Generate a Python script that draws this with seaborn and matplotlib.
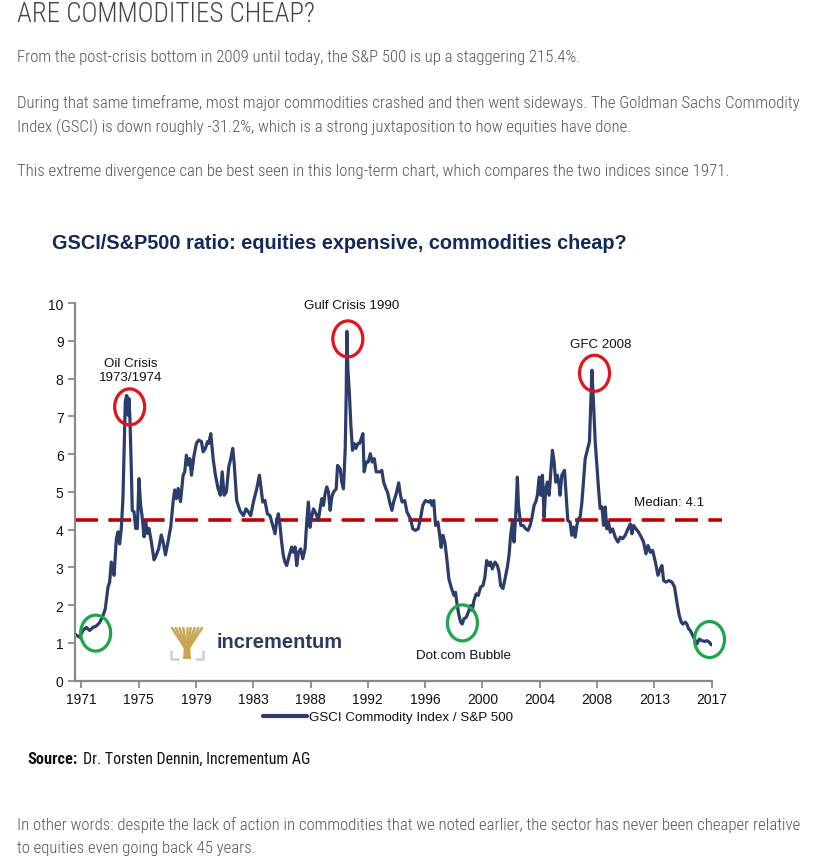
import numpy as np
import pandas as pd
import matplotlib
matplotlib.use("Agg")
import matplotlib.pyplot as plt
import seaborn as sns
from matplotlib import font_manager as fm
from matplotlib.patches import Ellipse, Polygon
from matplotlib.lines import Line2D

# ---------------- data ----------------
years = [1970.52, 1970.88, 1971.12, 1971.37, 1971.61, 1971.85, 1972.10, 1972.34, 1972.58, 1972.75,
         1972.95, 1973.07, 1973.19, 1973.31, 1973.39, 1973.56, 1973.68, 1973.80, 1973.92, 1974.04,
         1974.12, 1974.21, 1974.30, 1974.36, 1974.41, 1974.48, 1974.55, 1974.65, 1974.72, 1974.85,
         1974.97, 1975.09, 1975.21, 1975.33, 1975.43, 1975.58, 1975.70, 1975.82, 1975.94, 1976.11,
         1976.31, 1976.48, 1976.65, 1976.84, 1976.97, 1977.14, 1977.33, 1977.53, 1977.70, 1977.82,
         1977.94, 1978.07, 1978.24, 1978.43, 1978.55, 1978.67, 1978.80, 1978.92, 1979.04, 1979.23,
         1979.40, 1979.57, 1979.77, 1979.89, 1980.06, 1980.21, 1980.30, 1980.45, 1980.62, 1980.79,
         1980.98, 1981.15, 1981.28, 1981.42, 1981.59, 1981.76, 1981.91, 1982.05, 1982.15, 1982.34,
         1982.58, 1982.83, 1983.02, 1983.19, 1983.36, 1983.56, 1983.80, 1984.00, 1984.09, 1984.24,
         1984.40, 1984.58, 1984.77, 1984.97, 1985.14, 1985.26, 1985.38, 1985.50, 1985.62, 1985.74,
         1985.86, 1985.99, 1986.18, 1986.35, 1986.47, 1986.60, 1986.72, 1986.84, 1987.01, 1987.16,
         1987.33, 1987.45, 1987.57, 1987.69, 1987.81, 1987.94, 1988.13, 1988.30, 1988.42, 1988.55,
         1988.67, 1988.79, 1988.91, 1989.04, 1989.16, 1989.28, 1989.40, 1989.60, 1989.70, 1989.89,
         1990.01, 1990.13, 1990.26, 1990.33, 1990.38, 1990.45, 1990.57, 1990.67, 1990.79, 1990.91,
         1991.04, 1991.18, 1991.30, 1991.43, 1991.55, 1991.64, 1991.79, 1991.94, 1992.09, 1992.23,
         1992.38, 1992.52, 1992.67, 1992.81, 1992.93, 1993.06, 1993.23, 1993.35, 1993.50, 1993.67,
         1993.79, 1993.98, 1994.16, 1994.29, 1994.41, 1994.60, 1994.77, 1995.02, 1995.19, 1995.38,
         1995.58, 1995.75, 1995.92, 1996.11, 1996.36, 1996.48, 1996.60, 1996.72, 1996.85, 1997.02,
         1997.14, 1997.26, 1997.38, 1997.53, 1997.70, 1997.82, 1998.02, 1998.19, 1998.31, 1998.43,
         1998.56, 1998.68, 1998.80, 1998.92, 1999.09, 1999.24, 1999.41, 1999.53, 1999.65, 1999.82,
         1999.97, 2000.14, 2000.31, 2000.45, 2000.58, 2000.75, 2000.87, 2000.99, 2001.19, 2001.36,
         2001.48, 2001.60, 2001.77, 2001.92, 2002.09, 2002.21, 2002.33, 2002.46, 2002.58, 2002.70,
         2002.82, 2002.90, 2003.07, 2003.24, 2003.43, 2003.60, 2003.75, 2003.87, 2004.04, 2004.16,
         2004.28, 2004.41, 2004.53, 2004.65, 2004.77, 2004.89, 2005.01, 2005.14, 2005.26, 2005.38,
         2005.50, 2005.62, 2005.74, 2005.87, 2005.94, 2006.06, 2006.26, 2006.38, 2006.50, 2006.67,
         2006.79, 2006.91, 2007.04, 2007.16, 2007.28, 2007.40, 2007.53, 2007.77, 2008.08, 2008.26,
         2008.37, 2008.50, 2008.74, 2008.86, 2008.99, 2009.11, 2009.23, 2009.35, 2009.47, 2009.60,
         2009.77, 2009.96, 2010.16, 2010.33, 2010.50, 2010.69, 2010.89, 2011.06, 2011.18, 2011.30,
         2011.47, 2011.67, 2011.86, 2012.03, 2012.20, 2012.35, 2012.52, 2012.69, 2012.89, 2013.08,
         2013.25, 2013.37, 2013.49, 2013.66, 2013.86, 2014.10, 2014.29, 2014.46, 2014.63, 2014.78,
         2014.90, 2015.07, 2015.19, 2015.32, 2015.44, 2015.56, 2015.75, 2015.92, 2016.09, 2016.29,
         2016.48, 2016.65, 2016.82, 2016.97]

ratio = [1.24, 1.15, 1.33, 1.41, 1.33, 1.41, 1.45, 1.54, 1.72, 1.90,
         2.48, 2.61, 3.14, 2.96, 2.79, 3.76, 3.94, 3.62, 4.03, 4.82,
         5.97, 7.38, 7.55, 7.51, 7.03, 7.47, 6.94, 5.61, 4.51, 4.47,
         4.03, 4.03, 5.35, 4.64, 4.38, 3.81, 4.21, 3.90, 4.03, 3.68,
         3.20, 3.33, 3.50, 3.86, 3.68, 3.33, 3.68, 4.08, 4.74, 5.05,
         4.82, 5.09, 4.74, 5.44, 5.53, 5.97, 5.71, 5.88, 5.44, 5.97,
         6.28, 6.37, 6.33, 6.06, 6.15, 6.33, 6.28, 6.54, 5.88, 5.44,
         5.09, 4.91, 5.53, 4.91, 5.00, 5.66, 5.88, 6.15, 5.79, 4.77,
         4.50, 4.37, 4.55, 4.47, 4.37, 4.73, 5.08, 5.44, 5.17, 4.73,
         4.77, 4.42, 4.37, 4.11, 3.89, 4.24, 4.42, 4.11, 3.67, 3.32,
         3.14, 3.05, 3.32, 3.54, 3.40, 3.54, 3.05, 3.40, 3.49, 3.23,
         3.49, 4.20, 4.73, 4.06, 4.33, 4.55, 4.42, 4.24, 4.55, 4.82,
         4.64, 4.95, 5.13, 4.99, 4.51, 4.86, 4.99, 5.08, 5.70, 5.61,
         5.26, 5.08, 6.15, 7.56, 9.25, 8.27, 7.56, 6.77, 6.10, 6.28,
         6.15, 6.28, 6.28, 6.41, 6.54, 5.53, 5.79, 5.79, 6.01, 5.79,
         5.88, 5.53, 5.53, 5.53, 5.57, 5.26, 5.08, 4.99, 4.73, 4.51,
         4.73, 4.95, 5.24, 4.91, 4.73, 4.77, 4.46, 4.29, 4.02, 3.98,
         4.02, 4.29, 4.64, 4.77, 4.73, 4.77, 4.64, 4.77, 4.11, 4.20,
         3.89, 3.53, 3.85, 3.67, 3.14, 2.70, 2.44, 2.26, 2.34, 1.99,
         1.73, 1.55, 1.50, 1.64, 1.68, 1.81, 1.99, 1.86, 2.12, 2.30,
         2.26, 2.48, 2.52, 2.74, 3.18, 3.05, 3.14, 2.96, 3.14, 3.05,
         2.88, 2.52, 2.44, 2.70, 3.01, 3.32, 3.85, 4.20, 3.67, 4.38,
         5.39, 4.64, 4.11, 4.11, 4.02, 3.98, 4.11, 4.29, 4.64, 4.73,
         4.91, 5.39, 4.91, 5.44, 4.33, 5.08, 5.26, 4.91, 5.53, 6.10,
         5.79, 5.26, 5.44, 5.17, 4.91, 5.44, 5.57, 4.91, 4.24, 4.20,
         3.85, 4.07, 3.80, 4.11, 4.29, 4.33, 4.73, 5.88, 6.33, 8.22,
         7.39, 6.33, 5.09, 4.56, 4.60, 4.11, 4.60, 4.02, 4.20, 3.93,
         4.02, 3.80, 3.67, 3.80, 3.76, 3.85, 4.02, 4.15, 3.89, 4.11,
         4.02, 3.93, 3.80, 3.67, 3.36, 3.58, 3.40, 3.45, 3.14, 2.79,
         2.96, 3.05, 2.65, 2.61, 2.65, 2.61, 2.48, 2.08, 1.73, 1.55,
         1.50, 1.55, 1.50, 1.37, 1.33, 1.24, 1.10, 0.97, 1.10, 1.06,
         1.04, 1.06, 1.02, 0.95]

tick_labels = ['1971', '1975', '1979', '1983', '1988', '1992', '1996',
               '2000', '2004', '2008', '2013', '2017']
y_ticks = [0, 1, 2, 3, 4, 5, 6, 7, 8, 9, 10]
median_value = 4.25
median_label = "Median: 4.1"
series_label = "GSCI Commodity Index / S&P 500"

event_labels = ["Oil Crisis\n1973/1974", "Gulf Crisis 1990", "GFC 2008", "Dot.com Bubble"]
circle_years = [1974.53, 1990.45, 2008.45, 1972.05, 1998.81, 2016.84]
circle_values = [7.25, 9.05, 8.14, 1.26, 1.53, 1.09]
circle_kind = ['red', 'red', 'red', 'green', 'green', 'green']

page_title = "ARE COMMODITIES CHEAP?"
para1 = "From the post-crisis bottom in 2009 until today, the S&P 500 is up a staggering 215.4%."
para2a = ("During that same timeframe, most major commodities crashed and then went sideways. "
          "The Goldman Sachs Commodity")
para2b = "Index (GSCI) is down roughly -31.2%, which is a strong juxtaposition to how equities have done."
para3 = "This extreme divergence can be best seen in this long-term chart, which compares the two indices since 1971."
chart_title = "GSCI/S&P500 ratio: equities expensive, commodities cheap?"
source_bold = "Source:"
source_rest = "Dr. Torsten Dennin, Incrementum AG"
para4a = ("In other words: despite the lack of action in commodities that we noted earlier, "
          "the sector has never been cheaper relative")
para4b = "to equities even going back 45 years."

# ---------------- style ----------------
NAVY = '#2C3D6B'
RED = '#E3131B'
DARKRED = '#C00000'
GREEN = '#1BA64A'
AXIS_GRAY = '#8A8A8A'
BODY = '#555555'

sns.set_theme(style="white")
plt.rcParams['font.family'] = ['Liberation Sans', 'DejaVu Sans']


def find_font(prefs):
    files = [f.fname for f in fm.fontManager.ttflist]
    for p in prefs:
        for fn in files:
            if p in fn.lower().replace(' ', '').replace('_', '').replace('-', ''):
                return fn
    return None


narrow_light = find_font(['robotocondensedlight', 'opensanscondensedlight', 'opensanscondensedlight',
                          'notosanscondensedlight', 'opensanscondensed', 'liberationsansnarrowregular',
                          'robotocondensedregular', 'notosanscondensedregular', 'notosanscondensed.',
                          'dejavusanscondensed.', 'liberationsansnarrow.'])
narrow_reg = find_font(['liberationsansnarrowregular', 'liberationsansnarrow.', 'robotocondensedregular',
                        'notosanscondensedregular', 'dejavusanscondensed.', 'opensanscondensed'])
narrow_bold = find_font(['liberationsansnarrowbold.', 'robotocondensedbold.', 'notosanscondensedbold.',
                         'dejavusanscondensedbold', 'opensanscondensedbold'])


def fprops(path, fallback_weight='normal', fallback_family='Liberation Sans'):
    if path:
        return fm.FontProperties(fname=path)
    return fm.FontProperties(family=fallback_family, weight=fallback_weight)


W, H = 839, 862
fig = plt.figure(figsize=(W / 100, H / 100), dpi=100)
fig.patch.set_facecolor('white')
renderer = fig.canvas.get_renderer()


def fx(px):
    return px / W


def fy(py):
    return 1 - py / H


def fitted_size(text, fp, target_px, base=12.0):
    t = fig.text(0, 0, text, fontproperties=fp)
    t.set_fontsize(base)
    w = t.get_window_extent(renderer).width
    t.remove()
    return base * target_px / w


def put(x, y, text, fp, size, **kw):
    t = fig.text(fx(x), fy(y), text, fontproperties=fp, **kw)
    t.set_fontsize(size)
    return t


# ---------------- page text ----------------
fp_light = fprops(narrow_light)
fp_reg = fprops(narrow_reg)
fp_bold = fprops(narrow_bold, 'bold')

s_title = fitted_size(page_title, fp_light, 297)
put(17, 22, page_title, fp_light, s_title, color='#444444', va='baseline', ha='left')

s_body = fitted_size(para1, fp_light, 563)
body_kw = dict(color=BODY, va='baseline', ha='left')
put(17, 62, para1, fp_light, s_body, **body_kw)
put(17, 108, para2a, fp_light, s_body, **body_kw)
put(17, 132, para2b, fp_light, s_body, **body_kw)
put(17, 176, para3, fp_light, s_body, **body_kw)
put(17, 830, para4a, fp_light, s_body, **body_kw)
put(17, 853, para4b, fp_light, s_body, **body_kw)

fp_ct = fm.FontProperties(family='Liberation Sans', weight='bold')
s_ct = fitted_size(chart_title, fp_ct, 571)
put(52, 249, chart_title, fp_ct, s_ct, color='#14285A', va='baseline', ha='left')

s_src_b = fitted_size(source_bold, fp_bold, 50)
s_src_r = fitted_size(source_rest, fp_reg, 229)
put(27, 764, source_bold, fp_bold, s_src_b, color='#111111', va='baseline', ha='left',
    fontweight='bold')
put(83, 764, source_rest, fp_reg, s_src_r, color='#111111', va='baseline', ha='left')

# ---------------- chart ----------------
x0, x1 = 1970.52, 2017.0
ax = fig.add_axes([fx(74.7), fy(681.7), (711.7 - 74.7) / W, (681.7 - 304) / H])
df = pd.DataFrame({'year': years, 'ratio': ratio})
sns.lineplot(data=df, x='year', y='ratio', ax=ax, color=NAVY, lw=2.3, legend=False)

ax.set_xlim(x0, x1)
ax.set_ylim(y_ticks[0], y_ticks[-1])
ax.set_xticks(np.linspace(1971, 2017, len(tick_labels)))
ax.set_xticklabels(tick_labels)
ax.set_yticks(y_ticks)
ax.set_xlabel('')
ax.set_ylabel('')
ax.tick_params(axis='both', direction='out', length=5, width=1.3, color=AXIS_GRAY,
               labelsize=10, labelcolor='#111111', pad=3, left=True, bottom=True)
for s in ['top', 'right']:
    ax.spines[s].set_visible(False)
for s in ['left', 'bottom']:
    ax.spines[s].set_color(AXIS_GRAY)
    ax.spines[s].set_linewidth(1.6)

# median line
lw_med = 2.6
ax.plot([x0, x1 + 0.75], [median_value, median_value], color=DARKRED, lw=lw_med,
        dashes=(16.5 / lw_med, 7.5 / lw_med), clip_on=False, zorder=1)

# circles
yr_per_px = (x1 - x0) / (711.7 - 74.7)
val_per_px = 10 / (681.7 - 304)
for cx, cy, kind in zip(circle_years, circle_values, circle_kind):
    e = Ellipse((cx, cy), width=30 * yr_per_px, height=36 * val_per_px, fill=False,
                edgecolor=RED if kind == 'red' else GREEN, lw=2.3, clip_on=False, zorder=4)
    ax.add_patch(e)

# annotation labels
ann_kw = dict(fontsize=9.6, color='#111111', ha='center', va='center')
fig.text(fx(131), fy(371), event_labels[0], linespacing=1.15, **ann_kw)
fig.text(fx(352), fy(306), event_labels[1], **ann_kw)
fig.text(fx(601), fy(345), event_labels[2], **ann_kw)
fig.text(fx(463), fy(656), event_labels[3], **ann_kw)
fig.text(fx(634), fy(503), median_label, fontsize=9.6, color='#111111', ha='left', va='center')

# legend
handle = Line2D([], [], color=NAVY, lw=3)
fig.legend([handle], [series_label], loc='center', bbox_to_anchor=(fx(388), fy(718)),
           frameon=False, fontsize=9.6, handlelength=3.3, handletextpad=0.2,
           labelcolor='#111111')

# incrementum logo (decoration)
GOLD = '#C9A651'
tx, ty = 187, 652
for ex in np.linspace(172, 202, 9):
    fig.add_artist(Line2D([fx(tx), fx(ex)], [fy(ty), fy(629)], color=GOLD, lw=1.8))
fig.add_artist(Polygon([(fx(183), fy(660)), (fx(191), fy(660)), (fx(190), fy(645)), (fx(184), fy(645))],
                       closed=True, color=GOLD, lw=0))
for (a, b, c) in [((171, 652), (171, 660), (178, 660)), ((203, 652), (203, 660), (196, 660))]:
    fig.add_artist(Line2D([fx(a[0]), fx(b[0]), fx(c[0])], [fy(a[1]), fy(b[1]), fy(c[1])],
                          color='#C9CED8', lw=1.8))
fig.text(fx(217), fy(643), "incrementum", fontsize=14.5, fontweight='bold', color='#2E3A66',
         ha='left', va='center')

fig.savefig('out.png', dpi=100, facecolor='white')
